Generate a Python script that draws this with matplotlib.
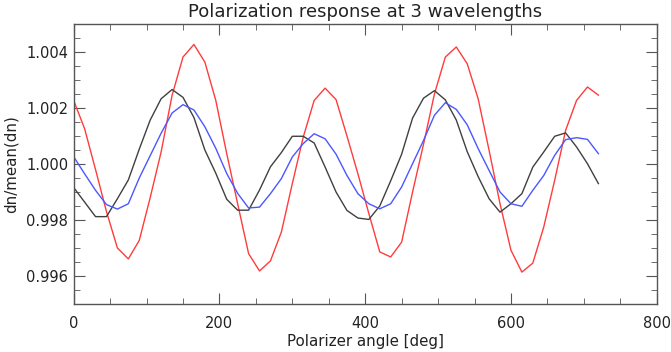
import numpy as np
import matplotlib
matplotlib.use('Agg')
import matplotlib.pyplot as plt
from matplotlib.ticker import MultipleLocator

# polarizer angle, one sample every 15 deg
angle = np.arange(0, 721, 15)

# deviation from 1, in units of 1e-3
red_dev = [2.27, 1.26, -0.2, -1.7, -3.0, -3.39, -2.73, -1.2, 0.43, 2.45,
           3.82, 4.27, 3.64, 2.27, 0.37, -1.42, -3.2, -3.82, -3.46, -2.43,
           -0.70, 0.96, 2.27, 2.71, 2.30, 1.0, -0.35, -1.77, -3.14, -3.32,
           -2.79, -1.0, 0.7, 2.5, 3.82, 4.18, 3.58, 2.33, 0.49, -1.42,
           -3.08, -3.86, -3.54, -2.25, -0.58, 1.20, 2.27, 2.75, 2.46]
black_dev = [-0.84, -1.36, -1.88, -1.88, -1.24, -0.57, 0.53, 1.57, 2.33, 2.66,
             2.38, 1.66, 0.50, -0.33, -1.26, -1.65, -1.65, -0.93, -0.10, 0.41,
             0.99, 0.99, 0.75, -0.11, -1.0, -1.66, -1.93, -1.98, -1.5, -0.6,
             0.35, 1.64, 2.35, 2.62, 2.29, 1.57, 0.44, -0.45, -1.24, -1.72,
             -1.42, -1.06, -0.11, 0.43, 0.99, 1.11, 0.61, 0.01, -0.70]
blue_dev = [0.26, -0.35, -0.94, -1.45, -1.61, -1.42, -0.5, 0.3, 1.1, 1.82,
            2.12, 1.93, 1.33, 0.56, -0.34, -1.05, -1.57, -1.54, -1.06, -0.52,
            0.25, 0.73, 1.08, 0.90, 0.35, -0.41, -1.06, -1.42, -1.60, -1.42,
            -0.82, 0.01, 0.84, 1.74, 2.19, 1.95, 1.40, 0.55, -0.23, -1.0,
            -1.42, -1.51, -0.94, -0.41, 0.31, 0.87, 0.94, 0.88, 0.37]

red = 1 + np.array(red_dev) * 1e-3
black = 1 + np.array(black_dev) * 1e-3
blue = 1 + np.array(blue_dev) * 1e-3

plt.rcParams['font.family'] = ['DejaVu Sans']

fig = plt.figure(figsize=(6.71, 3.52), dpi=100)
ax = fig.add_axes([0.1098, 0.1364, 0.8689, 0.7954])

ax.plot(angle, red, color='#ff3c3c', lw=1.0)
ax.plot(angle, black, color='#404040', lw=1.0)
ax.plot(angle, blue, color='#4b57ff', lw=1.0)

ax.set_xlim(0, 800)
ax.set_ylim(0.995, 1.005)
ax.xaxis.set_major_locator(MultipleLocator(200))
ax.xaxis.set_minor_locator(MultipleLocator(50))
ax.yaxis.set_major_locator(MultipleLocator(0.002))
ax.yaxis.set_minor_locator(MultipleLocator(0.0005))
ax.yaxis.set_major_formatter(plt.FuncFormatter(lambda v, p: f'{v:.3f}'))

for s in ax.spines.values():
    s.set_color('#555555')
    s.set_linewidth(1.0)
ax.tick_params(which='both', direction='in', top=True, right=True,
               color='#555555', labelsize=10.5, labelcolor='#222222')
ax.tick_params(which='major', length=8)
ax.tick_params(which='minor', length=4.5)
ax.tick_params(axis='x', pad=9)
ax.tick_params(axis='y', pad=4)

ax.set_xlabel('Polarizer angle [deg]', fontsize=10.8, labelpad=2, color='#222222')
ax.set_ylabel('dn/mean(dn)', fontsize=10.8, labelpad=5, color='#222222')
ax.set_title('Polarization response at 3 wavelengths', fontsize=13, pad=5,
             color='#222222')

fig.savefig('out.png', dpi=100)
